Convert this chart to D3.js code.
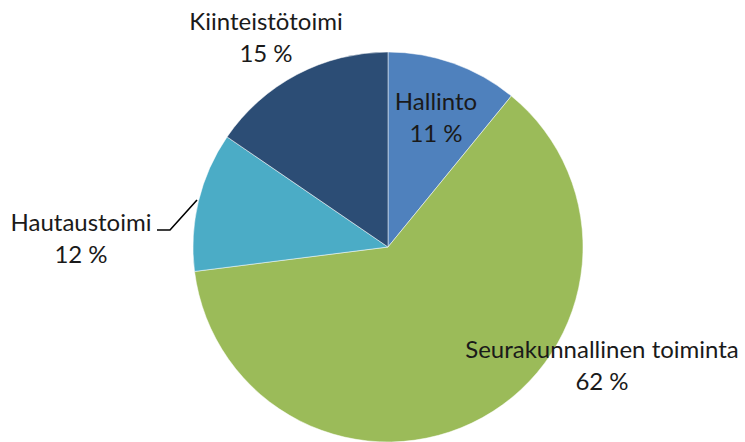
<!DOCTYPE html>
<html>
<head>
<meta charset="utf-8">
<script src="https://cdn.jsdelivr.net/npm/d3@7"></script>
<style>
  html, body { margin: 0; padding: 0; background: #fff; }
  svg { display: block; }
  text { font-family: Lato, "Open Sans", sans-serif; fill: #1a1a1a; }
</style>
</head>
<body>
<svg id="chart" width="745" height="442"></svg>
<script>
const categories = ["Hallinto", "Seurakunnallinen toiminta", "Hautaustoimi", "Kiinteistötoimi"];
const values = [10.9, 62.1, 11.55, 15.45];
const valueLabels = ["11 %", "62 %", "12 %", "15 %"];
const colors = ["#4F81BD", "#9BBB59", "#4BACC6", "#2C4D75"];

const W = 745, H = 442;
const cx = 388, cy = 247, R = 195;
// label baseline anchors relative to pie center (layout only)
const labelLayout = [
  { dx: 48, dy: -137 },
  { dx: 214, dy: 111 },
  { dx: -307, dy: -16 },
  { dx: -122, dy: -217 }
];

const svg = d3.select("#chart");
const g = svg.append("g").attr("transform", `translate(${cx},${cy})`);

const data = categories.map((c, i) => ({ name: c, value: values[i], label: valueLabels[i], color: colors[i], i }));
const pie = d3.pie().value(d => d.value).sort(null);
const arc = d3.arc().innerRadius(0).outerRadius(R);
const arcs = pie(data);

g.selectAll("path.slice").data(arcs).enter().append("path")
  .attr("class", "slice")
  .attr("d", arc)
  .attr("fill", d => d.data.color)
  .attr("stroke", "#fff")
  .attr("stroke-width", 0.5);

// leader line for Hautaustoimi
const lx = labelLayout[2].dx, ly = labelLayout[2].dy;
g.append("path")
  .attr("d", d3.line()([[lx + 76, ly - 1], [lx + 89, ly - 1], [-191, -47]]))
  .attr("fill", "none")
  .attr("stroke", "#000")
  .attr("stroke-width", 1.6);

const labels = g.selectAll("text.lbl").data(arcs).enter().append("text")
  .attr("class", "lbl")
  .attr("text-anchor", "middle")
  .attr("font-size", 24)
  .attr("transform", d => `translate(${labelLayout[d.data.i].dx},${labelLayout[d.data.i].dy})`);
labels.append("tspan").attr("x", 0).attr("y", 0).text(d => d.data.name);
labels.append("tspan").attr("x", 0).attr("y", 32).text(d => d.data.label);
</script>
</body>
</html>
